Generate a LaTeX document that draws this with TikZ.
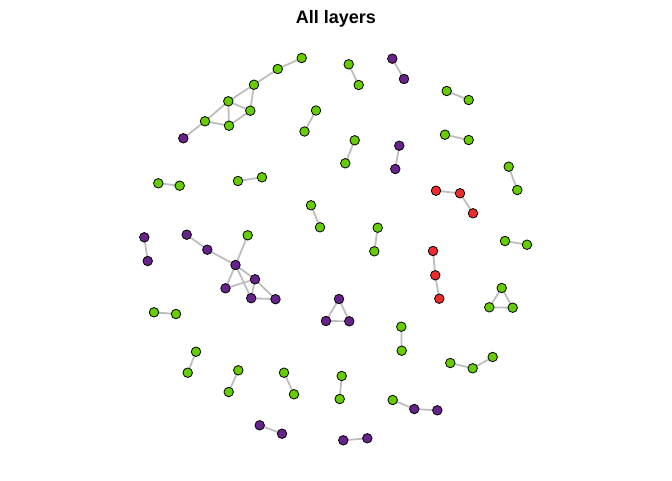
\documentclass[tikz,border=0pt]{standalone}
\usepackage{fontspec}
\setmainfont{Liberation Sans}
\usetikzlibrary{backgrounds}
\definecolor{gn}{HTML}{66CD00}
\definecolor{pu}{HTML}{68228B}
\definecolor{rd}{HTML}{EE2C2C}
\definecolor{ed}{HTML}{BEBEBE}
\begin{document}
\begin{tikzpicture}[x=1pt,y=-1pt,
  vx/.style={circle,draw=black,line width=0.8pt,minimum size=9.5pt,inner sep=0pt},
  g/.style={vx,fill=gn}, p/.style={vx,fill=pu}, r/.style={vx,fill=rd},
  ln/.style={draw=ed,line width=1.8pt}]
\useasboundingbox (0,0) rectangle (672,480);
\node[font=\bfseries\fontsize{18}{20}\selectfont] (title) at (336,19) {All layers};
% cluster top-left
\node[p] (c1p) at (183.3,138.3) {};
\node[g] (c1a) at (205,121.3) {};
\node[g] (c1b) at (228.3,101.3) {};
\node[g] (c1c) at (229,125.7) {};
\node[g] (c1d) at (250.3,110.7) {};
\node[g] (c1e) at (254,84.7) {};
\node[g] (c1f) at (277.7,69) {};
\node[g] (c1g) at (301.7,58) {};
% cluster left middle
\node[p] (c2A) at (186.7,234.7) {};
\node[p] (c2B) at (207.3,249.7) {};
\node[g] (c2C) at (247.7,235.3) {};
\node[p] (c2H) at (235.5,265) {};
\node[p] (c2D) at (255,279.3) {};
\node[p] (c2E) at (225.5,288.3) {};
\node[p] (c2F) at (251.2,298.2) {};
\node[p] (c2G) at (275.5,299.2) {};
% pairs
\node[p] (a1) at (144.3,237.3) {};
\node[p] (a2) at (147.7,261) {};
\node[g] (b1) at (154,312.3) {};
\node[g] (b2) at (176,314) {};
\node[g] (d1) at (158.3,183.3) {};
\node[g] (d2) at (179.7,185.7) {};
\node[g] (e1) at (238,181) {};
\node[g] (e2) at (262,177.3) {};
\node[g] (f1) at (316,110.5) {};
\node[g] (f2) at (304.5,131.5) {};
\node[g] (h1) at (348.7,64.3) {};
\node[g] (h2) at (358.7,85) {};
\node[p] (i1) at (392.3,58.7) {};
\node[p] (i2) at (404,79) {};
\node[g] (j1) at (446.7,91) {};
\node[g] (j2) at (468.7,100) {};
\node[g] (k1) at (354.7,140.3) {};
\node[g] (k2) at (345.3,163.3) {};
\node[p] (l1) at (399.3,145.7) {};
\node[p] (l2) at (395.3,169) {};
\node[g] (m1) at (445,134.7) {};
\node[g] (m2) at (468.7,140) {};
\node[g] (n1) at (508.7,166.7) {};
\node[g] (n2) at (517.3,190) {};
\node[r] (o1) at (436,190.7) {};
\node[r] (o2) at (460,193.3) {};
\node[r] (o3) at (473,213.3) {};
\node[g] (q1) at (505,241) {};
\node[g] (q2) at (527,244.7) {};
\node[r] (s1) at (433,251) {};
\node[r] (s2) at (435.3,275.3) {};
\node[r] (s3) at (439.3,298.7) {};
\node[g] (t1) at (501.7,288) {};
\node[g] (t2) at (489.3,307.3) {};
\node[g] (t3) at (512.7,307.7) {};
\node[g] (u1) at (311,205.3) {};
\node[g] (u2) at (320,227.3) {};
\node[g] (v1) at (377.7,227.7) {};
\node[g] (v2) at (374.3,251.3) {};
\node[p] (w1) at (339,299) {};
\node[p] (w2) at (326,321) {};
\node[p] (w3) at (349.3,321.3) {};
\node[g] (x1) at (196,351.7) {};
\node[g] (x2) at (187.7,372.7) {};
\node[g] (y1) at (238.3,370.3) {};
\node[g] (y2) at (228.7,392) {};
\node[g] (z1) at (284,372.7) {};
\node[g] (z2) at (294,394.3) {};
\node[g] (aa1) at (341.7,376) {};
\node[g] (aa2) at (339.7,399) {};
\node[p] (bb1) at (259.7,425.3) {};
\node[p] (bb2) at (282,433.7) {};
\node[p] (cc1) at (343.3,440.3) {};
\node[p] (cc2) at (367.3,438.3) {};
\node[g] (dd1) at (401.3,326.7) {};
\node[g] (dd2) at (401.7,350.7) {};
\node[g] (ee1) at (450.3,363) {};
\node[g] (ee2) at (472.7,368.3) {};
\node[g] (ee3) at (492.7,357) {};
\node[g] (ff1) at (392.7,400) {};
\node[p] (ff2) at (414.3,409) {};
\node[p] (ff3) at (437.3,410.3) {};
\begin{scope}[on background layer]
\draw[ln] (c1p.center) -- (c1a.center) -- (c1b.center) -- (c1e.center) -- (c1f.center) -- (c1g.center);
\draw[ln] (c1a.center) -- (c1c.center) -- (c1d.center) -- (c1e.center);
\draw[ln] (c1b.center) -- (c1c.center);
\draw[ln] (c1b.center) -- (c1d.center);
\draw[ln] (c2A.center) -- (c2B.center) -- (c2H.center) -- (c2C.center);
\draw[ln] (c2H.center) -- (c2E.center) -- (c2D.center) -- (c2G.center) -- (c2F.center) -- (c2D.center) -- (c2H.center) -- (c2F.center);
\draw[ln] (a1.center) -- (a2.center);
\draw[ln] (b1.center) -- (b2.center);
\draw[ln] (d1.center) -- (d2.center);
\draw[ln] (e1.center) -- (e2.center);
\draw[ln] (f1.center) -- (f2.center);
\draw[ln] (h1.center) -- (h2.center);
\draw[ln] (i1.center) -- (i2.center);
\draw[ln] (j1.center) -- (j2.center);
\draw[ln] (k1.center) -- (k2.center);
\draw[ln] (l1.center) -- (l2.center);
\draw[ln] (m1.center) -- (m2.center);
\draw[ln] (n1.center) -- (n2.center);
\draw[ln] (o1.center) -- (o2.center) -- (o3.center);
\draw[ln] (q1.center) -- (q2.center);
\draw[ln] (s1.center) -- (s2.center) -- (s3.center);
\draw[ln] (t1.center) -- (t2.center) -- (t3.center) -- cycle;
\draw[ln] (u1.center) -- (u2.center);
\draw[ln] (v1.center) -- (v2.center);
\draw[ln] (w1.center) -- (w2.center) -- (w3.center) -- cycle;
\draw[ln] (x1.center) -- (x2.center);
\draw[ln] (y1.center) -- (y2.center);
\draw[ln] (z1.center) -- (z2.center);
\draw[ln] (aa1.center) -- (aa2.center);
\draw[ln] (bb1.center) -- (bb2.center);
\draw[ln] (cc1.center) -- (cc2.center);
\draw[ln] (dd1.center) -- (dd2.center);
\draw[ln] (ee1.center) -- (ee2.center) -- (ee3.center);
\draw[ln] (ff1.center) -- (ff2.center) -- (ff3.center);
\end{scope}
\end{tikzpicture}
\end{document}
